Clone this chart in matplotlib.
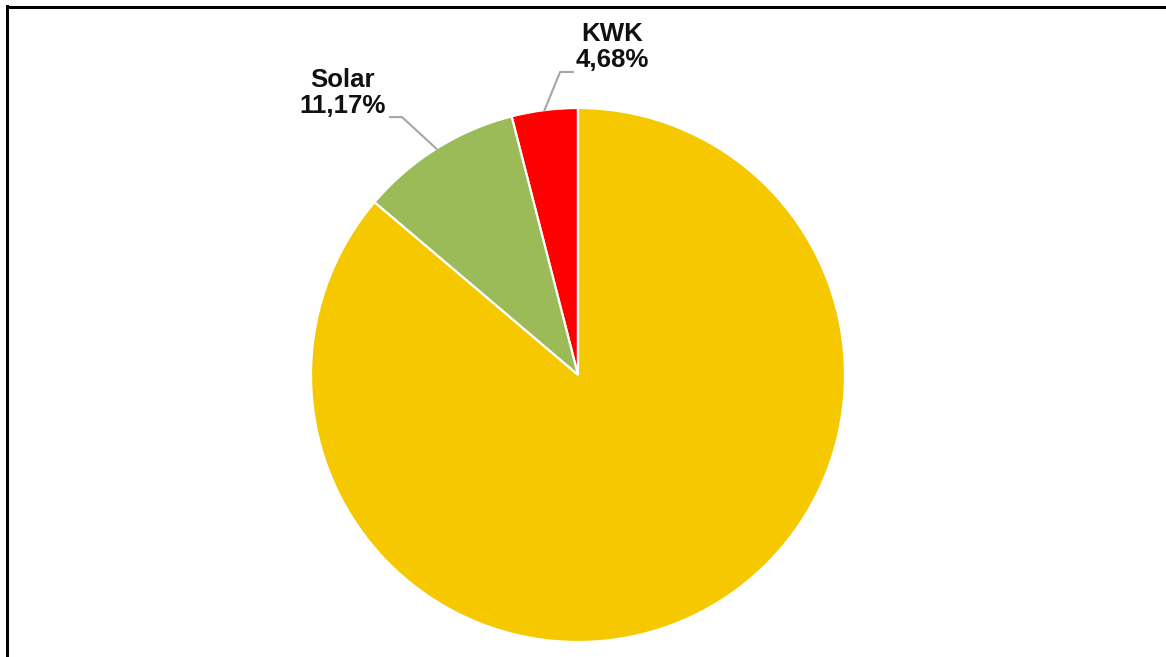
import matplotlib

matplotlib.use("Agg")

import matplotlib.pyplot as plt
from matplotlib.lines import Line2D
import numpy as np

# slice sizes as drawn (start at 12 o'clock, counter-clockwise)
categories = ["KWK", "Solar", "Rest"]
shares = [4.0, 9.8, 86.2]
label_texts = ["KWK\n4,68%", "Solar\n11,17%", None]
colors = ["#FF0000", "#9BBB59", "#F5C800"]

W, H, DPI = 1166, 657, 100
CX, CY, R = 578, 375, 267  # pie centre / radius in pixels

fig = plt.figure(figsize=(W / DPI, H / DPI), dpi=DPI, facecolor="white")
ax = fig.add_axes([(CX - R) / W, (H - CY - R) / H, 2 * R / W, 2 * R / H])
ax.axis("off")

wedges, _ = ax.pie(
    shares,
    colors=colors,
    startangle=90,
    counterclock=True,
    radius=1.0,
    wedgeprops=dict(edgecolor="white", linewidth=1.6),
)
ax.set_xlim(-1, 1)
ax.set_ylim(-1, 1)

# label placement (text centre) and leader-line elbow, in pie units
label_pos = {"KWK": (0.128, 1.228), "Solar": (-0.882, 1.057)}
elbows = {
    "KWK": [(-0.019, 1.135), (-0.067, 1.135)],
    "Solar": [(-0.704, 0.966), (-0.659, 0.966)],
}

for w, cat, txt in zip(wedges, categories, label_texts):
    if txt is None:
        continue
    mid = np.deg2rad((w.theta1 + w.theta2) / 2)
    ex, ey = 1.0 * np.cos(mid), 1.0 * np.sin(mid)
    pts = elbows[cat] + [(ex, ey)]
    xs, ys = zip(*pts)
    ax.add_line(Line2D(xs, ys, color="#A6A6A6", linewidth=1.5, clip_on=False))
    tx, ty = label_pos[cat]
    ax.text(
        tx, ty, txt,
        ha="center", va="center",
        fontsize=18.6, fontweight="bold",
        family=["Liberation Sans", "DejaVu Sans"],
        color="#111111", linespacing=1.08,
        clip_on=False,
    )

# partial black frame (left and top edges)
lw = 3 * 72 / DPI
fig.add_artist(Line2D([6.5 / W, 6.5 / W], [0, 1 - 6 / H], color="black",
                      linewidth=lw, transform=fig.transFigure, solid_capstyle="projecting"))
fig.add_artist(Line2D([6.5 / W, 1], [1 - 7 / H, 1 - 7 / H], color="black",
                      linewidth=lw, transform=fig.transFigure, solid_capstyle="projecting"))

fig.savefig("out.png", dpi=DPI, facecolor="white")
plt.close(fig)
